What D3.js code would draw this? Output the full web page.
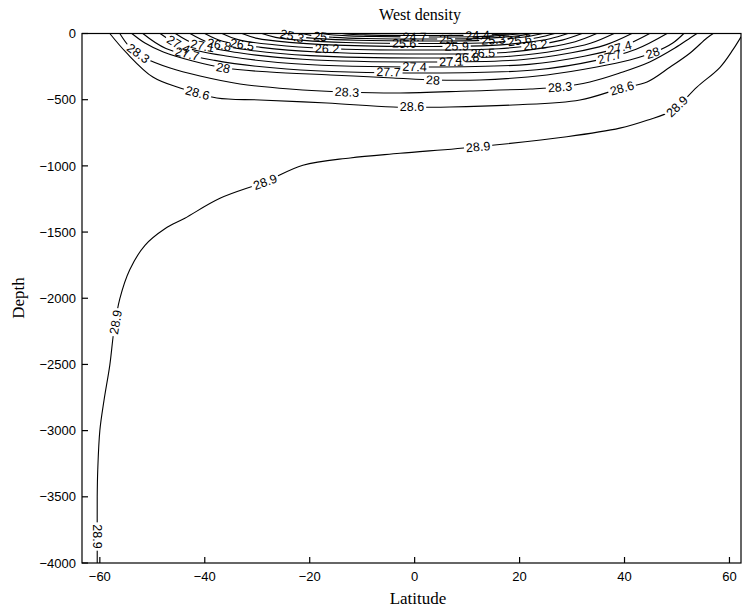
<!DOCTYPE html>
<html><head><meta charset="utf-8">
<script src="https://cdn.jsdelivr.net/npm/d3@7"></script>
<style>body{margin:0;background:#fff}</style>
</head><body><svg id="c" width="742" height="611"></svg>
<script>
// ---- data (latitude, depth) ----
const xTicks = [-60,-40,-20,0,20,40,60];
const yTicks = [0,-500,-1000,-1500,-2000,-2500,-3000,-3500,-4000];
const levels = ["28.9","28.6","28.3","28","27.7","27.4","27.1","26.8","26.5","26.2","25.9","25.6","25.3","25","24.7","24.4"];

const c289 = [[-60.5,-4000],[-60.5,-3750],[-60.5,-3500],[-60.4,-3300],[-60.0,-3000],[-59.2,-2770],[-58.1,-2505],[-57.3,-2240],[-56.2,-2005],[-54.3,-1785],[-51.4,-1600],[-47.6,-1475],[-43.8,-1395],[-37.1,-1245],[-28.5,-1120],[-21.3,-995],[-12.3,-940],[-2.8,-905],[12.1,-855],[29.0,-780],[39.1,-715],[44.3,-655],[49.2,-580],[53.8,-405],[58.2,-255],[60.7,-120],[62.2,-25]];
const c286 = [[-58.1,0],[-54.9,-147],[-49.9,-329],[-44.7,-412],[-37.7,-487],[-29.5,-502],[-16.7,-525],[-4.1,-555],[6.7,-555],[18.7,-540],[31.5,-502],[39.5,-412],[44.3,-366],[48.7,-253],[52.5,-147],[55.7,-34],[56.9,0]];
const c283 = [[-56.2,0],[-54.3,-102],[-51.4,-185],[-46.6,-261],[-40.9,-321],[-33.3,-381],[-23.8,-419],[-12.9,-442],[-2.8,-449],[10.5,-434],[22.0,-419],[27.7,-404],[33.4,-366],[39.1,-298],[44.8,-215],[49.6,-110],[52.5,-34],[53.8,0]];
const c280 = [[-53.9,0],[-51.4,-72],[-47.9,-140],[-42.3,-208],[-36.2,-261],[-27.6,-291],[-16.1,-313],[-4.1,-336],[3.5,-351],[12.4,-351],[25.2,-313],[34.7,-253],[41.0,-200],[45.8,-140],[49.2,-72],[51.3,0]];
const c277 = [[-51.8,0],[-47.4,-113],[-38.1,-203],[-24.4,-268],[3,-298],[23.3,-274],[34.6,-203],[42.2,-119],[48.1,0]];
const c274 = [[-48.5,0],[-44.4,-96],[-35.6,-172],[-22.8,-228],[3,-253],[21.8,-233],[32.3,-172],[39.4,-101],[44.8,0]];
const c271 = [[-45.6,0],[-41.7,-82],[-33.5,-146],[-21.3,-194],[3,-215],[20.3,-198],[29.9,-146],[36.4,-86],[41.4,0]];
const c268 = [[-42.8,0],[-39.1,-70],[-31.4,-126],[-19.9,-167],[3,-185],[18.8,-170],[27.5,-126],[33.5,-74],[38.0,0]];
const c265 = [[-40.0,0],[-36.6,-59],[-29.3,-105],[-18.5,-140],[3,-155],[17.3,-143],[25.2,-105],[30.6,-62],[34.7,0]];
const c262 = [[-36.7,0],[-33.5,-48],[-26.8,-85],[-16.9,-113],[3,-125],[16.0,-115],[23.2,-85],[28.1,-50],[31.9,0]];
const c259 = [[-32.9,0],[-30.0,-37],[-23.9,-67],[-15.0,-88],[3,-98],[14.8,-90],[21.3,-67],[25.8,-39],[29.2,0]];
const c256 = [[-29.1,0],[-26.5,-29],[-21.1,-52],[-13.1,-68],[3,-76],[13.7,-70],[19.6,-52],[23.6,-30],[26.7,0]];
const c253 = [[-25.3,0],[-23.0,-22],[-18.2,-39],[-11.2,-51],[3,-57],[12.6,-52],[18.0,-39],[21.6,-23],[24.4,0]];
const c250 = [[-21.5,0],[-19.5,-16],[-15.4,-29],[-9.3,-38],[3,-42],[11.7,-39],[16.5,-29],[19.8,-17],[22.3,0]];
const c247 = [[-17.7,0],[-16.0,-10],[-12.5,-18],[-7.4,-23],[3,-26],[10.9,-24],[15.3,-18],[18.2,-10],[20.5,0]];
const c244 = [[-13.9,0],[-12.5,-6],[-9.7,-10],[-5.5,-14],[3,-15],[10.0,-14],[13.9,-10],[16.5,-6],[18.5,0]];

const lab289 = [[-60.4,-3800],[-57.1,-2180],[-28.5,-1120],[12.1,-857],[49.5,-530]];
const lab286 = [[-41.5,-465],[-0.5,-555],[39.5,-412]];
const lab283 = [[-52.9,-162],[-12.9,-442],[27.7,-404]];
const lab280 = [[-36.5,-261],[3.5,-351],[45.5,-162]];
const lab277 = [[-43.2,-130],[-5,-290],[37.2,-180]];
const lab274 = [[-44.7,-60],[0,-250],[39.1,-110]];
const lab271 = [[-40.3,-64],[7,-213]];
const lab268 = [[-37.1,-50],[10,-180]];
const lab265 = [[-32.7,-40],[13,-150]];
const lab262 = [[-16.7,-115],[23,-85]];
const lab259 = [[8,-98]];
const lab256 = [[-2,-76],[20,-50]];
const lab253 = [[-23.4,-25],[15,-45]];
const lab250 = [[-18,-20],[6,-41]];
const lab247 = [[0,-25]];
const lab244 = [[12,-14]];

const series = [c289,c286,c283,c280,c277,c274,c271,c268,c265,c262,c259,c256,c253,c250,c247,c244];
const labelSets = [lab289,lab286,lab283,lab280,lab277,lab274,lab271,lab268,lab265,lab262,lab259,lab256,lab253,lab250,lab247,lab244];

// ---- drawing ----
const svg = d3.select("#c");
const L = 82, R = 741, T = 33.5, B = 563;
const x = d3.scaleLinear().domain([-63.4, 62.2]).range([L, R]);
const y = d3.scaleLinear().domain([0, -4000]).range([T, B]);
const defs = svg.append("defs");
defs.append("clipPath").attr("id","plotclip").append("rect")
  .attr("x",L).attr("y",T).attr("width",R-L).attr("height",B-T);

const line = d3.line().x(d=>d[0]).y(d=>d[1]).curve(d3.curveCatmullRom.alpha(0.5));
const plot = svg.append("g").attr("clip-path","url(#plotclip)");
const labG = svg.append("g");

function nearest(pts, p){
  let best=null, bd=Infinity;
  for(let i=0;i<pts.length-1;i++){
    const a=pts[i], b=pts[i+1];
    const dx=b[0]-a[0], dy=b[1]-a[1];
    const l2=dx*dx+dy*dy||1;
    let t=((p[0]-a[0])*dx+(p[1]-a[1])*dy)/l2; t=Math.max(0,Math.min(1,t));
    const q=[a[0]+t*dx,a[1]+t*dy];
    const d=(q[0]-p[0])**2+(q[1]-p[1])**2;
    if(d<bd){bd=d;best={q,ang:Math.atan2(dy,dx)*180/Math.PI};}
  }
  let a=best.ang; if(a>90)a-=180; if(a<=-90)a+=180;
  return {x:best.q[0], y:best.q[1], a};
}

series.forEach((s,i)=>{
  const pts = s.map(d=>[x(d[0]), y(d[1])]);
  const mask = defs.append("mask").attr("id","m"+i).attr("maskUnits","userSpaceOnUse")
    .attr("x",0).attr("y",0).attr("width",742).attr("height",611);
  mask.append("rect").attr("x",0).attr("y",0).attr("width",742).attr("height",611).attr("fill","#fff");
  labelSets[i].forEach(lp=>{
    const n = nearest(pts,[x(lp[0]),y(lp[1])]);
    const t = labG.append("text").text(levels[i])
      .attr("transform",`translate(${n.x},${n.y}) rotate(${n.a})`)
      .attr("text-anchor","middle").attr("dy","0.36em")
      .attr("font-family","'Liberation Sans',Arial,sans-serif").attr("font-size",12.5).attr("fill","#000");
    const w = t.node().getComputedTextLength();
    mask.append("rect").attr("x",-w/2-2).attr("y",-5).attr("width",w+4).attr("height",10)
      .attr("fill","#000").attr("transform",`translate(${n.x},${n.y}) rotate(${n.a})`);
  });
  plot.append("path").attr("d",line(pts)).attr("fill","none").attr("stroke","#000")
    .attr("stroke-width",1.1).attr("mask","url(#m"+i+")");
});

// axes
const ax = svg.append("g");
ax.append("rect").attr("x",L).attr("y",T).attr("width",R-L).attr("height",B-T)
  .attr("fill","none").attr("stroke","#000").attr("stroke-width",1.2);
const fs = "'Liberation Sans',Arial,sans-serif";
xTicks.forEach(v=>{
  ax.append("line").attr("x1",x(v)).attr("x2",x(v)).attr("y1",B).attr("y2",B-6).attr("stroke","#000").attr("stroke-width",1.2);
  ax.append("text").attr("x",x(v)).attr("y",B+18).attr("text-anchor","middle")
    .attr("font-family",fs).attr("font-size",13).text(v<0?"\u2212"+(-v):v);
});
yTicks.forEach(v=>{
  ax.append("line").attr("x1",L).attr("x2",L+6).attr("y1",y(v)).attr("y2",y(v)).attr("stroke","#000").attr("stroke-width",1.2);
  ax.append("text").attr("x",L-6).attr("y",y(v)).attr("dy","0.36em").attr("text-anchor","end")
    .attr("font-family",fs).attr("font-size",13).text(v<0?"\u2212"+(-v):v);
});
const serif = "'Liberation Serif','Times New Roman',serif";
svg.append("text").attr("x",420).attr("y",20).attr("text-anchor","middle")
  .attr("font-family",serif).attr("font-size",16).text("West density");
svg.append("text").attr("x",418).attr("y",604).attr("text-anchor","middle")
  .attr("font-family",serif).attr("font-size",17).text("Latitude");
svg.append("text").attr("transform","translate(24,298) rotate(-90)").attr("text-anchor","middle")
  .attr("font-family",serif).attr("font-size",17).text("Depth");
</script></body></html>
